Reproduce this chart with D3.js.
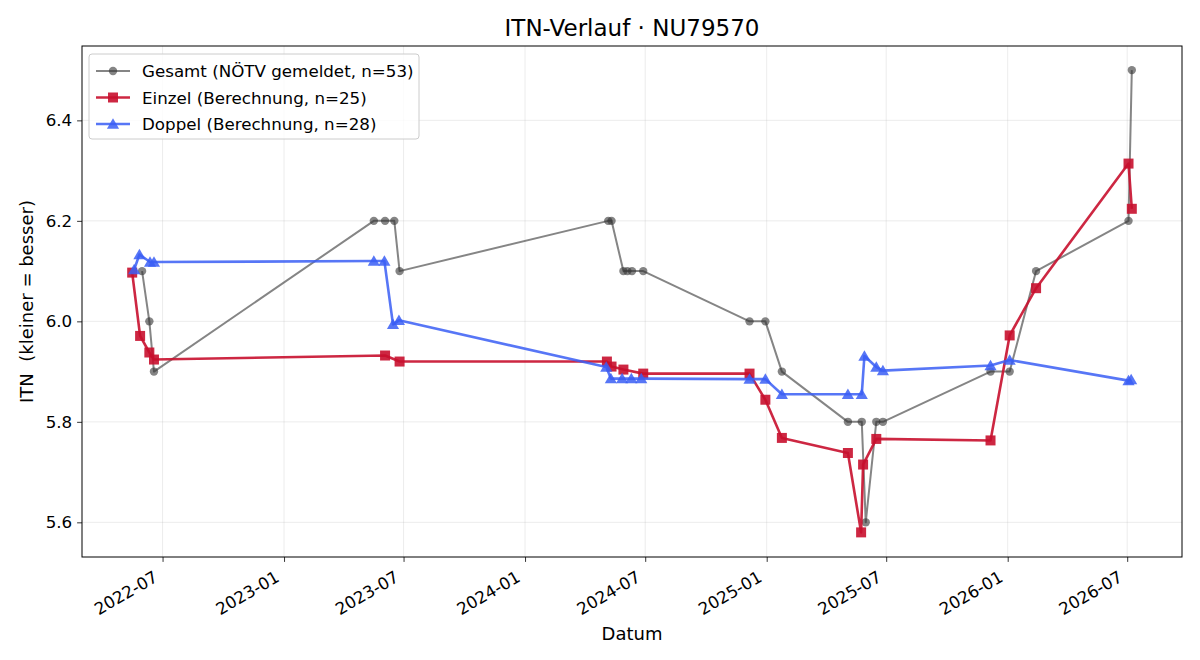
<!DOCTYPE html>
<html>
<head>
<meta charset="utf-8">
<script src="https://cdn.jsdelivr.net/npm/d3@7"></script>
<style>
  body { margin: 0; background: #fff; }
  text { font-family: "DejaVu Sans", sans-serif; fill: #000; white-space: pre; }
</style>
</head>
<body>
<svg width="1200" height="660"></svg>
<script>
// --- data ---
var gesamtDates = ["2022-05-31", "2022-06-11", "2022-06-18", "2023-05-17", "2023-06-03", "2023-06-17", "2023-06-25",
    "2024-05-06", "2024-05-11", "2024-05-29", "2024-06-04", "2024-06-11", "2024-06-28", "2024-12-06", "2024-12-30",
    "2025-01-24", "2025-05-04", "2025-05-25", "2025-05-31", "2025-06-16", "2025-06-26", "2025-12-06", "2026-01-04",
    "2026-02-13", "2026-07-03", "2026-07-08"];
var gesamtVals = [6.1, 6.0, 5.9, 6.2, 6.2, 6.2, 6.1,
    6.2, 6.2, 6.1, 6.1, 6.1, 6.1, 6.0, 6.0,
    5.9, 5.8, 5.8, 5.6, 5.8, 5.8, 5.9, 5.9,
    6.1, 6.2, 6.5];

var einzelDates = ["2022-05-16", "2022-05-28", "2022-06-11", "2022-06-18", "2023-06-03", "2023-06-25",
    "2024-05-04", "2024-05-11", "2024-05-29", "2024-06-28", "2024-12-06", "2024-12-30", "2025-01-24",
    "2025-05-04", "2025-05-24", "2025-05-27", "2025-06-16", "2025-12-06", "2026-01-04", "2026-02-13",
    "2026-07-03", "2026-07-08"];
var einzelVals = [6.097, 5.971, 5.938, 5.924, 5.932, 5.920,
    5.920, 5.910, 5.904, 5.896, 5.896, 5.844, 5.768,
    5.738, 5.580, 5.715, 5.766, 5.763, 5.972, 6.066,
    6.314, 6.224];

var doppelDates = ["2022-05-19", "2022-05-27", "2022-06-12", "2022-06-18", "2023-05-17", "2023-06-02", "2023-06-15",
    "2023-06-24", "2024-05-03", "2024-05-10", "2024-05-27", "2024-06-10", "2024-06-25", "2024-12-06", "2024-12-30",
    "2025-01-24", "2025-05-04", "2025-05-25", "2025-05-29", "2025-06-16", "2025-06-26", "2025-12-06", "2026-01-04",
    "2026-07-03", "2026-07-07"];
var doppelVals = [6.103, 6.133, 6.118, 6.118, 6.120, 6.120, 5.994,
    6.002, 5.909, 5.886, 5.886, 5.886, 5.886, 5.885, 5.885,
    5.855, 5.855, 5.855, 5.931, 5.909, 5.902, 5.912, 5.923,
    5.882, 5.884];

var xTicks = ["2022-07", "2023-01", "2023-07", "2024-01", "2024-07", "2025-01", "2025-07", "2026-01", "2026-07"];
var yTicks = [5.6, 5.8, 6.0, 6.2, 6.4];

var seriesNames = ["Gesamt (NÖTV gemeldet, n=53)", "Einzel (Berechnung, n=25)", "Doppel (Berechnung, n=28)"];

// --- layout ---
// (don't call these top/left: window.top is read-only)
var svg = d3.select("svg"),
    axL = 82, axR = 1182, axT = 46, axB = 557,
    fs = 16.7;

var parse = d3.timeParse("%Y-%m-%d"),
    parseMonth = d3.timeParse("%Y-%m");

var x = d3.scaleTime()
    .domain([parse("2022-03-01"), parse("2026-09-22")])
    .range([axL, axR]);
var y = d3.scaleLinear()
    .domain([5.531, 6.548])
    .range([axB, axT]);

function zip(dates, vals) {
    return dates.map(function(d, i) { return {date: parse(d), v: vals[i]}; });
}

var series = [
    {name: seriesNames[0], data: zip(gesamtDates, gesamtVals), color: "#333333", op: 0.6, lw: 2, shape: "circle"},
    {name: seriesNames[1], data: zip(einzelDates, einzelVals), color: "#c8102e", op: 0.9, lw: 2.6, shape: "square"},
    {name: seriesNames[2], data: zip(doppelDates, doppelVals), color: "#3a5ef5", op: 0.85, lw: 2.6, shape: "triangle"}
];

// grid
var g = svg.append("g");
g.selectAll(".gx").data(xTicks).enter().append("line")
    .attr("x1", function(d) { return x(parseMonth(d)); })
    .attr("x2", function(d) { return x(parseMonth(d)); })
    .attr("y1", axT).attr("y2", axB)
    .attr("stroke", "#b0b0b0").attr("stroke-opacity", 0.3).attr("stroke-width", 0.8);
g.selectAll(".gy").data(yTicks).enter().append("line")
    .attr("x1", axL).attr("x2", axR)
    .attr("y1", function(d) { return y(d); })
    .attr("y2", function(d) { return y(d); })
    .attr("stroke", "#b0b0b0").attr("stroke-opacity", 0.3).attr("stroke-width", 0.8);

// axes
var xAxis = d3.axisBottom(x)
    .tickValues(xTicks.map(function(d) { return parseMonth(d); }))
    .tickFormat(d3.timeFormat("%Y-%m"))
    .tickSizeOuter(0).tickSize(4.9).tickPadding(0);
var gx = svg.append("g")
    .attr("transform", "translate(0," + axB + ")")
    .call(xAxis);
gx.select(".domain").remove();
gx.selectAll("line").attr("stroke-width", 0.8);
gx.selectAll("text")
    .attr("font-size", fs)
    .attr("font-family", "DejaVu Sans")
    .attr("text-anchor", "end")
    .attr("y", 0).attr("dy", "-0.24em")
    .attr("transform", "translate(-2,27) rotate(-30)");

var yAxis = d3.axisLeft(y)
    .tickValues(yTicks)
    .tickFormat(d3.format(".1f"))
    .tickSizeOuter(0).tickSize(4.9).tickPadding(4.9);
var gy = svg.append("g")
    .attr("transform", "translate(" + axL + ",0)")
    .call(yAxis);
gy.select(".domain").remove();
gy.selectAll("line").attr("stroke-width", 0.8);
gy.selectAll("text").attr("font-size", fs).attr("font-family", "DejaVu Sans");

// frame
svg.append("rect")
    .attr("x", axL).attr("y", axT)
    .attr("width", axR - axL).attr("height", axB - axT)
    .attr("fill", "none").attr("stroke", "#000").attr("stroke-width", 1);

// marker drawing
var sym = {
    circle: d3.symbol().type(d3.symbolCircle).size(Math.PI * 4.2 * 4.2),
    square: d3.symbol().type(d3.symbolSquare).size(10 * 10),
    triangle: d3.symbol().type(d3.symbolTriangle).size(64)
};

var line = d3.line()
    .x(function(d) { return x(d.date); })
    .y(function(d) { return y(d.v); });

series.forEach(function(s) {
    svg.append("path")
        .datum(s.data)
        .attr("d", line)
        .attr("fill", "none")
        .attr("stroke", s.color)
        .attr("stroke-opacity", s.op)
        .attr("stroke-width", s.lw)
        .attr("stroke-linejoin", "round");
    svg.selectAll(null)
        .data(s.data)
        .enter().append("path")
        .attr("d", sym[s.shape])
        .attr("transform", function(d) {
            var dy = s.shape === "triangle" ? 1.2 : 0;
            return "translate(" + x(d.date) + "," + (y(d.v) + dy) + ")";
        })
        .attr("fill", s.color)
        .attr("fill-opacity", s.op);
});

// title & labels
svg.append("text")
    .attr("x", (axL + axR) / 2).attr("y", 36)
    .attr("text-anchor", "middle").attr("font-size", 23)
    .text("ITN-Verlauf · NU79570");
svg.append("text")
    .attr("x", (axL + axR) / 2).attr("y", 640)
    .attr("text-anchor", "middle").attr("font-size", 18)
    .text("Datum");
svg.append("text")
    .attr("transform", "translate(33," + (axT + axB) / 2 + ") rotate(-90)")
    .attr("text-anchor", "middle").attr("font-size", 18)
    .text("ITN  (kleiner = besser)");

// legend
var lg = svg.append("g");
lg.append("rect")
    .attr("x", 89).attr("y", 54).attr("width", 330).attr("height", 85)
    .attr("rx", 3)
    .attr("fill", "#fff").attr("fill-opacity", 0.8)
    .attr("stroke", "#cccccc").attr("stroke-width", 1);
series.forEach(function(s, i) {
    var ly = 71 + i * 26.5;
    lg.append("line")
        .attr("x1", 96).attr("x2", 130).attr("y1", ly).attr("y2", ly)
        .attr("stroke", s.color).attr("stroke-opacity", s.op).attr("stroke-width", s.lw);
    lg.append("path")
        .attr("d", sym[s.shape])
        .attr("transform", "translate(113," + (ly + (s.shape === "triangle" ? 1.2 : 0)) + ")")
        .attr("fill", s.color).attr("fill-opacity", s.op);
    lg.append("text")
        .attr("x", 142).attr("y", ly).attr("dy", "0.36em")
        .attr("font-size", fs)
        .text(s.name);
});
</script>
</body>
</html>
